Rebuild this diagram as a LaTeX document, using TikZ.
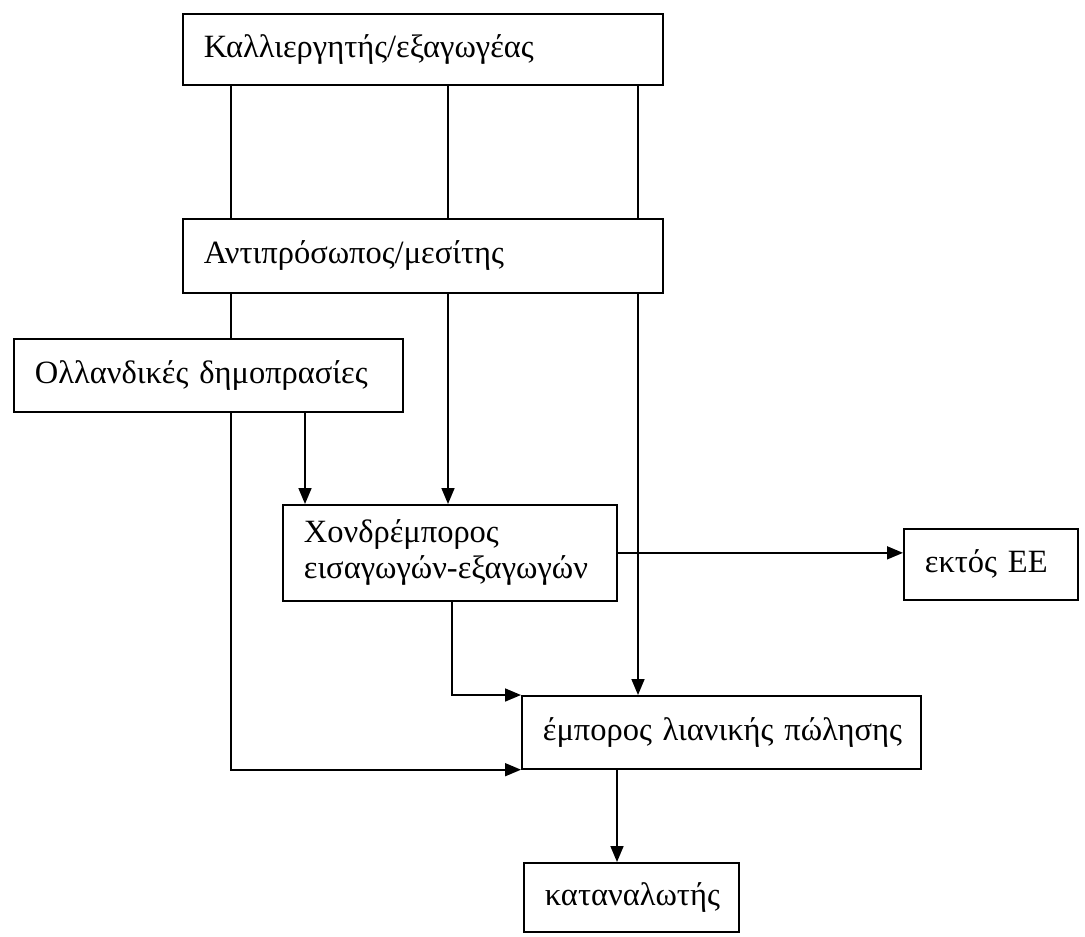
\documentclass[tikz,border=0pt]{standalone}
\usepackage{fontspec}
\setmainfont{Liberation Serif}
\usetikzlibrary{arrows.meta}
\newcommand{\bxind}{\hspace*{21pt}}
\tikzset{
  box/.style={draw, line width=1.7pt, anchor=north west, align=left, inner xsep=0pt, inner ysep=0pt,
    font=\fontsize{32.5}{36}\selectfont},
  conn/.style={line width=1.7pt},
  arr/.style={conn, -{Triangle[length=16pt,width=13pt]}}
}
\begin{document}
\begin{tikzpicture}[x=1pt,y=-1pt]
\useasboundingbox (0,0) rectangle (1085,937);
% boxes
\node[box, text width=480pt, minimum height=71pt] (b1) at (182,13) {\bxind Καλλιεργητής/εξαγωγέας};
\node[box, text width=480pt, minimum height=74pt] (b2) at (182,218) {\bxind Αντιπρόσωπος/μεσίτης};
\node[box, text width=389pt, minimum height=73pt] (b3) at (13,338) {\bxind Ολλανδικές δημοπρασίες};
\node[box, text width=334pt, minimum height=96pt] (b4) at (282,504) {\bxind Χονδρέμπορος\\\bxind εισαγωγών-εξαγωγών};
\node[box, text width=174pt, minimum height=71pt] (b5) at (903,528) {\bxind εκτός ΕΕ};
\node[box, text width=399pt, minimum height=73pt] (b6) at (521,695) {\bxind έμπορος λιανικής πώλησης};
\node[box, text width=215pt, minimum height=69pt] (b7) at (523,862) {\bxind καταναλωτής};
% x positions
\coordinate (xA) at (231,0);
\coordinate (xB) at (448,0);
\coordinate (xC) at (638,0);
\coordinate (xD) at (305,0);
\coordinate (xE) at (452,0);
\coordinate (xF) at (617,0);
% connectors
\draw[conn] (b1.south -| xA) -- (b2.north -| xA);
\draw[conn] (b1.south -| xB) -- (b2.north -| xB);
\draw[conn] (b1.south -| xC) -- (b2.north -| xC);
\draw[conn] (b2.south -| xA) -- (b3.north -| xA);
\draw[arr] (b2.south -| xB) -- (b4.north -| xB);
\draw[arr] (b2.south -| xC) -- (b6.north -| xC);
\draw[arr] (b3.south -| xD) -- (b4.north -| xD);
\draw[arr] (b3.south -| xA) |- (b6.south west);
\draw[arr] (b4.south -| xE) |- (b6.north west);
\draw[arr] (b4.east) -- (b4.east -| b5.west);
\draw[arr] (b6.south -| xF) -- (b7.north -| xF);
\end{tikzpicture}
\end{document}
